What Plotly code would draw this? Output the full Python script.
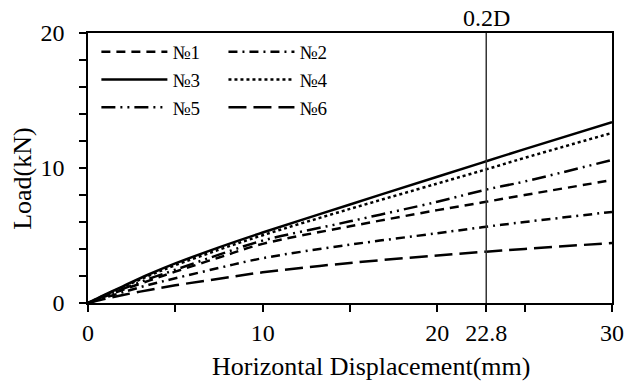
import plotly.graph_objects as go

disp = [0, 1, 2, 3.5, 5, 7.5, 10, 15, 20, 22.8, 25, 30]
s1 = [0, 0.5, 0.98, 1.66, 2.32, 3.37, 4.38, 5.68, 6.88, 7.5, 8.0, 9.1]
s2 = [0, 0.41, 0.8, 1.35, 1.83, 2.6, 3.32, 4.32, 5.17, 5.65, 6.0, 6.75]
s3 = [0, 0.63, 1.24, 2.13, 2.93, 4.12, 5.22, 7.3, 9.35, 10.5, 11.4, 13.4]
s4 = [0, 0.6, 1.18, 2.03, 2.8, 3.95, 5.02, 6.97, 8.85, 9.9, 10.75, 12.6]
s5 = [0, 0.53, 1.04, 1.8, 2.46, 3.58, 4.62, 6.05, 7.5, 8.4, 9.0, 10.6]
s6 = [0, 0.31, 0.59, 0.97, 1.31, 1.8, 2.27, 2.97, 3.52, 3.8, 4.0, 4.45]

names = ["№1", "№2", "№3", "№4", "№5", "№6"]
series = [s1, s2, s3, s4, s5, s6]
dashes = ["9px,6px", "9px,5px,2px,5px", "solid", "dot",
          "14px,5px,2px,5px,2px,5px", "18px,7px"]
legends = ["legend", "legend2", "legend", "legend2", "legend", "legend2"]

xtickvals = [0, 5, 10, 15, 20, 22.8, 25, 30]
xticktext = ["0", "", "10", "", "20", "22.8", "", "30"]
ytickvals = [0, 2, 4, 6, 8, 10, 12, 14, 16, 18, 20]
yticktext = ["0", "", "", "", "", "10", "", "", "", "", "20"]

font = "Liberation Serif, DejaVu Serif, Times New Roman, serif"

fig = go.Figure()
for n, s, d, lg in zip(names, series, dashes, legends):
    fig.add_trace(go.Scatter(x=disp, y=s, mode="lines", name=n, legend=lg,
                             line=dict(color="black", width=2.5, dash=d,
                                       shape="spline", smoothing=1.0)))

fig.add_shape(type="line", xref="x", yref="paper", x0=22.8, x1=22.8, y0=0, y1=1,
              line=dict(color="#333333", width=1.5))
fig.add_annotation(x=22.8, y=1, xref="x", yref="paper", text="0.2D",
                   showarrow=False, yanchor="bottom", yshift=0,
                   font=dict(family=font, size=24, color="black"))

# axis titles (placed as in the original, slightly off-centre)
fig.add_annotation(x=0.54, y=-0.235, xref="paper", yref="paper",
                   text="Horizontal Displacement(mm)", showarrow=False,
                   xanchor="center", yanchor="middle",
                   font=dict(family=font, size=26, color="black"))
fig.add_annotation(x=-0.124, y=0.46, xref="paper", yref="paper",
                   text="Load(kN)", showarrow=False, textangle=-90,
                   xanchor="center", yanchor="middle",
                   font=dict(family=font, size=26, color="black"))

axis_common = dict(showline=True, linecolor="black", linewidth=1.5, mirror=True,
                   ticks="outside", ticklen=7, tickwidth=1.5, tickcolor="black",
                   showgrid=False, zeroline=False,
                   tickfont=dict(family=font, size=24, color="black"))

fig.update_xaxes(range=[0, 30], tickmode="array", tickvals=xtickvals, ticktext=xticktext,
                 **axis_common)
fig.update_yaxes(range=[0, 20], tickmode="array", tickvals=ytickvals, ticktext=yticktext,
                 ticklabelstandoff=10, **axis_common)

leg_common = dict(bgcolor="rgba(0,0,0,0)", borderwidth=0, itemwidth=66,
                  tracegroupgap=0, yanchor="top", y=1.0, xanchor="left",
                  font=dict(family=font, size=19, color="black"))

fig.update_layout(
    width=635, height=387,
    margin=dict(l=88, r=23, t=33, b=84),
    paper_bgcolor="white", plot_bgcolor="white",
    legend=dict(x=0.016, **leg_common),
    legend2=dict(x=0.2585, **leg_common),
    showlegend=True,
)

fig.write_html("out.html", config={"displayModeBar": False},
               post_script="document.body.style.margin='0px';")
